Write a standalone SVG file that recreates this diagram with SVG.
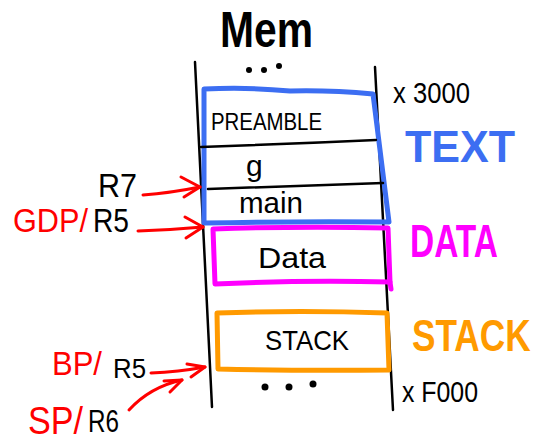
<svg xmlns="http://www.w3.org/2000/svg" width="551" height="446" viewBox="0 0 551 446">
<defs>
<style>
.hand{font-family:"Liberation Sans","DejaVu Sans",sans-serif;}
.blk{fill:#000;}
.red{fill:#ff0000;}
.ln{fill:none;stroke:#000;stroke-width:2.5;stroke-linecap:round;stroke-linejoin:round;}
.arr{fill:none;stroke:#ff0000;stroke-width:3;stroke-linecap:round;stroke-linejoin:round;}
.box{fill:none;stroke-width:5;stroke-linecap:round;stroke-linejoin:round;}
</style>
</defs>
<rect width="551" height="446" fill="#fff"/>

<g id="title">
<text class="hand blk" x="220" y="47" font-size="50" font-weight="bold" textLength="93" lengthAdjust="spacingAndGlyphs">Mem</text>
</g>

<g id="memory-column">
<path class="ln" d="M195,62 L212,407"/>
<path class="ln" d="M375,67 L393,410"/>
<circle cx="249" cy="70" r="3"/><circle cx="264" cy="70" r="3"/><circle cx="279" cy="66" r="3"/>
<circle cx="265" cy="387" r="3.5"/><circle cx="289" cy="387" r="3.5"/><circle cx="313" cy="384" r="3.5"/>
</g>

<g id="text-segment">
<path class="box" stroke="#3c6ef2" d="M204,89 Q250,87 290,91 Q330,90 373,94 L389,222 Q300,221 204,223 Z"/>
<path class="ln" d="M201,147 Q290,144 376,140"/>
<path class="ln" d="M208,189 Q300,186 383,183"/>
<text class="hand blk" x="211" y="130" font-size="24" textLength="111" lengthAdjust="spacingAndGlyphs">PREAMBLE</text>
<text class="hand blk" x="246" y="176" font-size="30">g</text>
<text class="hand blk" x="239" y="213" font-size="30" textLength="64" lengthAdjust="spacingAndGlyphs">main</text>
<text class="hand" fill="#3c6ef2" x="405" y="162" font-size="44" font-weight="bold" textLength="110" lengthAdjust="spacingAndGlyphs">TEXT</text>
<text class="hand blk" x="393" y="103" font-size="29" textLength="77" lengthAdjust="spacingAndGlyphs">x 3000</text>
</g>

<g id="data-segment">
<path class="box" stroke="#ff00ff" d="M213,229 Q300,226 388,228 L390,282 Q300,280 215,284 Z"/>
<path class="box" stroke="#ff00ff" d="M390,282 L391,289"/>
<text class="hand blk" x="258" y="268" font-size="30" textLength="68" lengthAdjust="spacingAndGlyphs">Data</text>
<text class="hand" fill="#ff00ff" x="410" y="257" font-size="46" font-weight="bold" textLength="88" lengthAdjust="spacingAndGlyphs">DATA</text>
</g>

<g id="stack-segment">
<path class="box" stroke="#ff9a00" d="M217,313 Q300,310 387,313 L389,370 Q300,371 218,369 Z"/>
<text class="hand blk" x="265" y="350" font-size="28" textLength="84" lengthAdjust="spacingAndGlyphs">STACK</text>
<text class="hand" fill="#ff9a00" transform="translate(412,351) scale(0.8,1)" x="0" y="0" font-size="44" font-weight="bold">STACK</text>
<text class="hand blk" x="402" y="402" font-size="30" textLength="76" lengthAdjust="spacingAndGlyphs">x F000</text>
</g>

<g id="register-labels">
<text class="hand blk" x="98" y="197" font-size="33" textLength="39" lengthAdjust="spacingAndGlyphs">R7</text>
<text class="hand red" x="13" y="232" font-size="34" textLength="75" lengthAdjust="spacingAndGlyphs">GDP/</text>
<text class="hand blk" x="93" y="232" font-size="33" textLength="36" lengthAdjust="spacingAndGlyphs">R5</text>
<text class="hand red" x="52" y="375" font-size="34" textLength="50" lengthAdjust="spacingAndGlyphs">BP/</text>
<text class="hand blk" x="113" y="378" font-size="28" textLength="33" lengthAdjust="spacingAndGlyphs">R5</text>
<text class="hand red" x="28" y="434" font-size="38" textLength="55" lengthAdjust="spacingAndGlyphs">SP/</text>
<text class="hand blk" x="88" y="432" font-size="32" textLength="31" lengthAdjust="spacingAndGlyphs">R6</text>
</g>

<g id="connectors">
<path class="arr" d="M143,195 Q170,193 200,187"/>
<path class="arr" d="M181,177 L200,187 L184,197"/>
<path class="arr" d="M138,231 Q170,230 203,227"/>
<path class="arr" d="M185,217 L203,227 L186,238"/>
<path class="arr" d="M151,373 Q178,372 205,367"/>
<path class="arr" d="M187,364 L205,367 L191,377"/>
<path class="arr" d="M129,410 Q150,387 182,380"/>
<path class="arr" d="M164,381 L182,380 L170,392"/>
</g>
</svg>
